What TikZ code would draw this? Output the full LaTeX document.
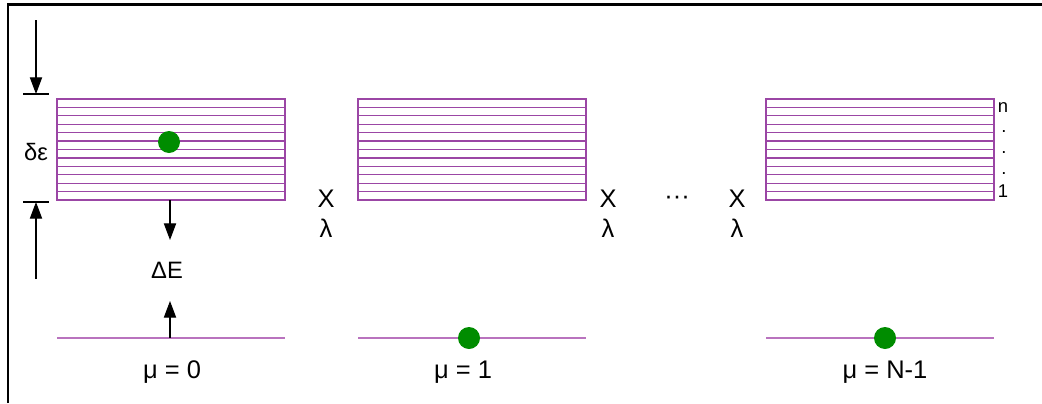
\documentclass[tikz,border=0pt]{standalone}
\usepackage{fontspec}
\setmainfont{Liberation Sans}
\usetikzlibrary{arrows.meta, positioning}

\definecolor{bandviolet}{RGB}{155,70,165}
\definecolor{groundviolet}{RGB}{185,115,190}
\definecolor{electrongreen}{RGB}{0,140,0}

\begin{document}
\begin{tikzpicture}[x=0.2mm, y=-0.2mm,
  band/.style={draw=bandviolet, line width=0.7pt},
  ground/.style={draw=groundviolet, line width=1.1pt},
  electron/.style={circle, fill=electrongreen, inner sep=0pt, minimum size=4.4mm},
  lbl/.style={font=\fontsize{14.5}{16}\selectfont, inner sep=0pt, anchor=base},
  smalllbl/.style={font=\fontsize{10.5}{12}\selectfont, inner sep=0pt, anchor=base},
  arr/.style={-{Triangle[length=9.5pt, width=7pt]}, line width=0.6pt}]
\def\bw{228}
\def\bh{101}
\def\nstrip{12}

\useasboundingbox (0,0) rectangle (1042,403);

% frame (top and left only)
\draw[line width=1.2pt] (8,403) -- (8,4.5) -- (1042,4.5);

% bands with their levels, and ground lines
\foreach \bx in {57,358,766} {
  \draw[band] (\bx,99) rectangle ++(\bw,\bh);
  \foreach \k in {1,...,11}
    \draw[band] (\bx,{99+\k*\bh/\nstrip}) -- ++(\bw,0);
  \draw[ground] (\bx,338) -- ++(\bw,0);
}

% electrons
\node[electron] (e0) at (169,142) {};
\node[electron] (e1) at (469,338) {};
\node[electron] (e2) at (885,338) {};

% band width dimension
\coordinate (tkA) at (23,94);
\coordinate (tkAr) at (49,94);
\coordinate (tkB) at (23,202);
\coordinate (tkBr) at (49,202);
\coordinate (dimA) at (36,20);
\coordinate (dimAtip) at (36,94);
\coordinate (dimB) at (36,279);
\coordinate (dimBtip) at (36,202);
\draw[line width=0.6pt] (tkA) -- (tkAr);
\draw[line width=0.6pt] (tkB) -- (tkBr);
\draw[arr] (dimA) -- (dimAtip);
\draw[arr] (dimB) -- (dimBtip);
\node[lbl, font=\fontsize{13.5}{15}\selectfont] (de) at (36,160) {δε};

% gap
\coordinate (gapA) at (170,200);
\coordinate (gapAtip) at (170,240);
\coordinate (gapB) at (170,338);
\coordinate (gapBtip) at (170,301);
\draw[arr] (gapA) -- (gapAtip);
\draw[arr] (gapB) -- (gapBtip);
\node[lbl, font=\fontsize{13.5}{15}\selectfont] (dE) at (167,278) {ΔE};

% products
\foreach \px/\nm in {326/p0, 608/p1, 737/p2} {
  \node[lbl] (\nm x) at (\px,207) {X};
  \node[lbl] (\nm l) at (\px,237) {λ};
}
\node[lbl] (etc) at (677,204) {···};

% level numbering
\node[smalllbl] (ln) at (1003,112) {n};
\foreach \py [count=\i] in {132,153,174}
  \node[smalllbl] (ld\i) at (1004,\py) {.};
\node[smalllbl] (l1) at (1003,197) {1};

% labels
\node[lbl] (mu0) at (172,378) {μ = 0};
\node[lbl] (mu1) at (463,378) {μ = 1};
\node[lbl] (mu2) at (885,378) {μ = N-1};
\end{tikzpicture}
\end{document}
